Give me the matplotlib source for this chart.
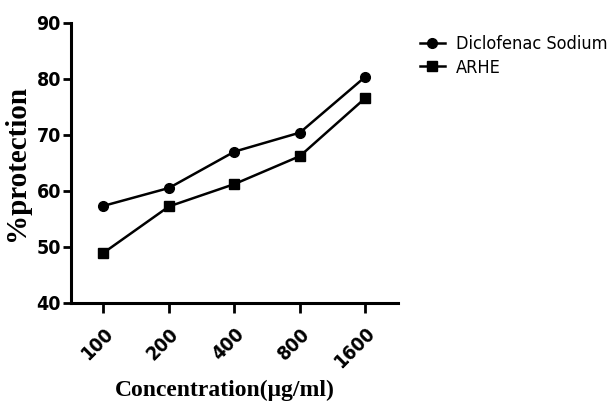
import matplotlib.pyplot as plt
from matplotlib import font_manager

# concentrations (ug/ml) and % protection
concentracoes = ['100', '200', '400', '800', '1600']
diclofenaco = [57.3, 60.5, 67.0, 70.4, 80.4]
arhe = [48.9, 57.2, 61.2, 66.2, 76.6]

nomes = set(f.name for f in font_manager.fontManager.ttflist)
fonte_tick = [n for n in ['Liberation Sans Narrow', 'DejaVu Sans Condensed'] if n in nomes] + ['DejaVu Sans']

fig = plt.figure(figsize=(6.11, 4.03), dpi=100)
ax = fig.add_axes([0.1157, 0.249, 0.536, 0.694])

x = range(len(concentracoes))
ax.plot(x, diclofenaco, color='black', lw=1.8, marker='o', ms=7, label='Diclofenac Sodium')
ax.plot(x, arhe, color='black', lw=1.8, marker='s', ms=7, label='ARHE')

ax.set_xlim(-0.5, 4.5)
ax.set_ylim(40, 90)
ax.set_yticks([40, 50, 60, 70, 80, 90])
ax.set_xticks(list(x))
ax.set_xticklabels(concentracoes, rotation=45, ha='right', va='top', rotation_mode='anchor')

for s in ['top', 'right']:
    ax.spines[s].set_visible(False)
for s in ['left', 'bottom']:
    ax.spines[s].set_linewidth(2.2)
ax.tick_params(axis='y', width=2, length=6, labelsize=14, pad=1)
ax.tick_params(axis='x', width=2, length=7.5, labelsize=14, pad=8)
for t in ax.get_xticklabels() + ax.get_yticklabels():
    t.set_fontfamily(fonte_tick)
    t.set_fontweight('bold')
    t.set_fontstretch('condensed')

ax.set_xlabel('Concentration(μg/ml)', family='Liberation Serif', fontweight='bold', fontsize=17)
ax.xaxis.set_label_coords(0.47, -0.275)
ax.set_ylabel('%protection', family='Liberation Serif', fontweight='bold', fontsize=21, labelpad=5)

fig.legend(loc='upper left', bbox_to_anchor=(0.66, 0.953), frameon=False,
           prop={'family': fonte_tick, 'size': 13, 'stretch': 'condensed'},
           handlelength=1.4, handletextpad=0.6, labelspacing=0.3)

fig.savefig('out.png', dpi=100)
